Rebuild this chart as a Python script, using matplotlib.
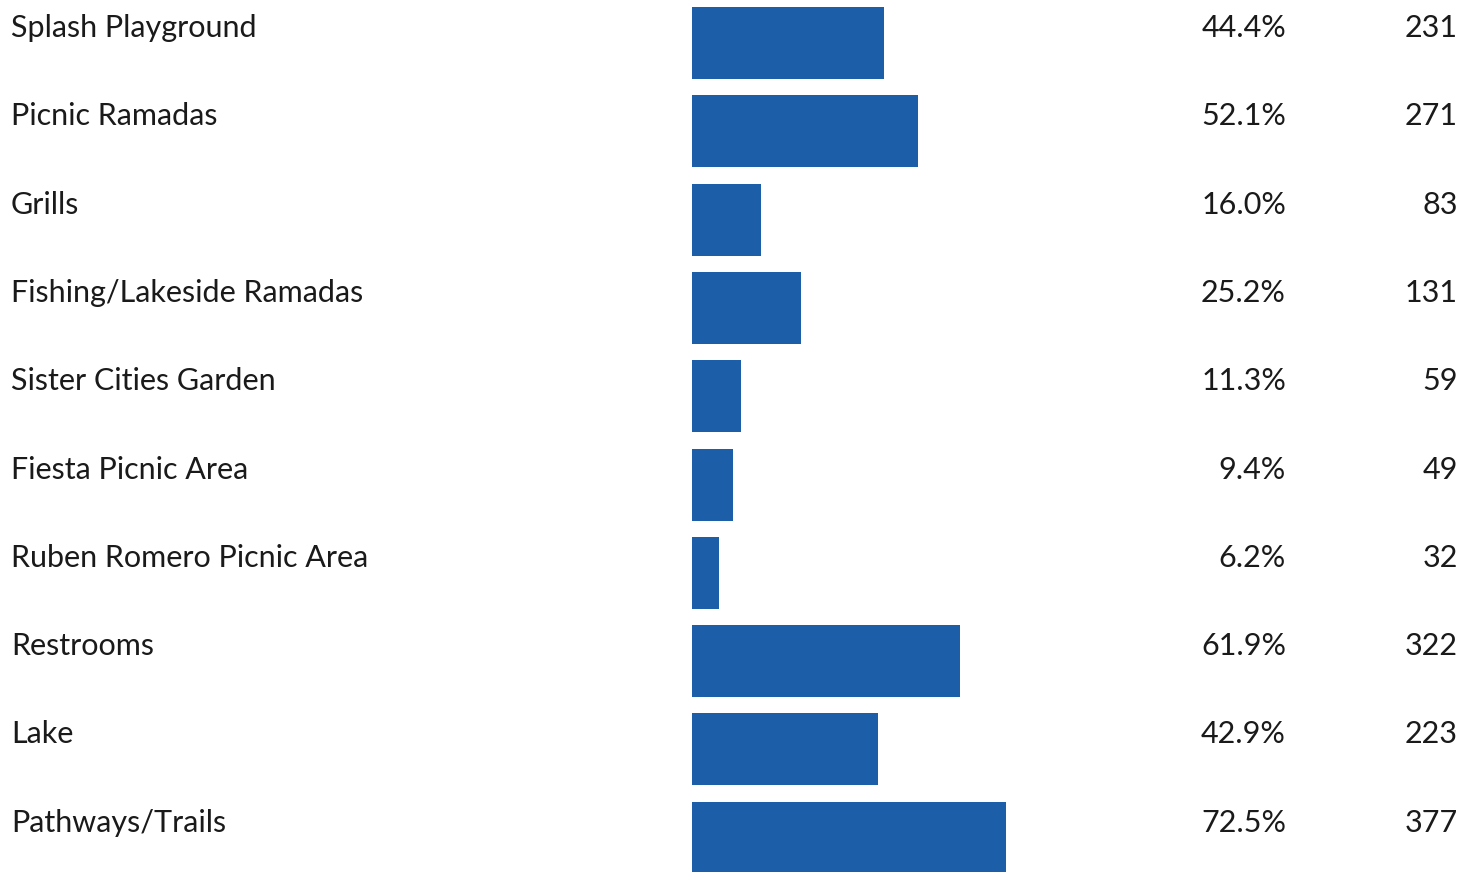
import matplotlib
matplotlib.use("Agg")
import matplotlib.pyplot as plt

# --- dados ---
categorias = ["Splash Playground", "Picnic Ramadas", "Grills", "Fishing/Lakeside Ramadas",
              "Sister Cities Garden", "Fiesta Picnic Area", "Ruben Romero Picnic Area",
              "Restrooms", "Lake", "Pathways/Trails"]
percentuais = [44.4, 52.1, 16.0, 25.2, 11.3, 9.4, 6.2, 61.9, 42.9, 72.5]
contagens = [231, 271, 83, 131, 59, 49, 32, 322, 223, 377]

COR_BARRA = "#1d5ea8"
COR_TEXTO = "#1a1a1a"
plt.rcParams['font.family'] = ['Lato', 'DejaVu Sans']

W, H = 1461, 872
fig = plt.figure(figsize=(W / 100, H / 100), dpi=100)
ax = fig.add_axes([0, 0, 1, 1])

# escala: 0% em x=692px, 100% = 433px
x0, px100 = 692, 433
passo, topo = 88.3, 43
ax.set_xlim(-x0 / px100 * 100, (W - x0) / px100 * 100)
ax.set_ylim((H - topo) / passo, -topo / passo)
ax.axis('off')

linhas = range(len(categorias))
ax.barh(linhas, percentuais, height=72 / passo, color=COR_BARRA, edgecolor='none')

def px2x(px):
    return (px - x0) / px100 * 100

off = -6 / passo
for i, (cat, p, n) in enumerate(zip(categorias, percentuais, contagens)):
    ax.text(px2x(11), i + off, cat, ha='left', va='baseline', fontsize=22, color=COR_TEXTO)
    ax.text(px2x(1286), i + off, f"{p:.1f}%", ha='right', va='baseline', fontsize=22, color=COR_TEXTO)
    ax.text(px2x(1458), i + off, str(n), ha='right', va='baseline', fontsize=22, color=COR_TEXTO)

fig.savefig("out.png", dpi=100)
